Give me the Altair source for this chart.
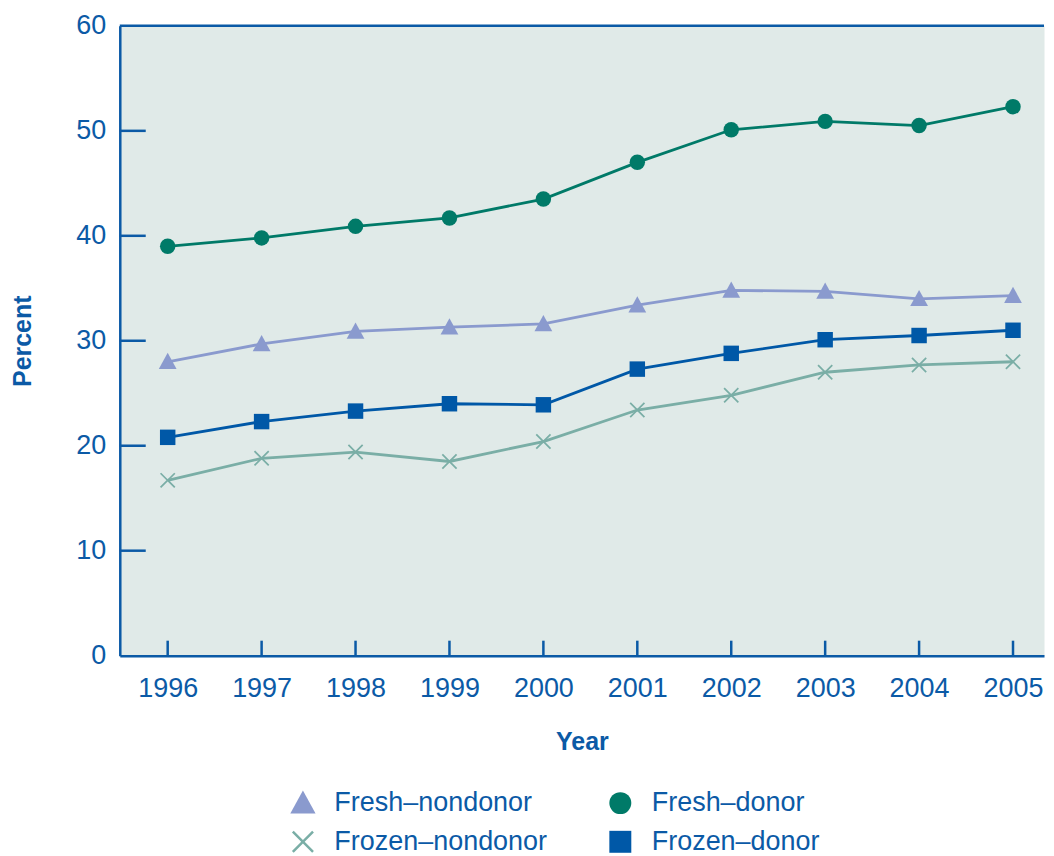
import altair as alt
import pandas as pd

years = [1996, 1997, 1998, 1999, 2000, 2001, 2002, 2003, 2004, 2005]
fresh_nondonor = [28.0, 29.7, 30.9, 31.3, 31.6, 33.4, 34.8, 34.7, 34.0, 34.3]
fresh_donor = [39.0, 39.8, 40.9, 41.7, 43.5, 47.0, 50.1, 50.9, 50.5, 52.3]
frozen_nondonor = [16.7, 18.8, 19.4, 18.5, 20.4, 23.4, 24.8, 27.0, 27.7, 28.0]
frozen_donor = [20.8, 22.3, 23.3, 24.0, 23.9, 27.3, 28.8, 30.1, 30.5, 31.0]

# legend is filled column by column: column 1 = nondonor, column 2 = donor
series_names = ["Fresh\u2013nondonor", "Frozen\u2013nondonor", "Fresh\u2013donor", "Frozen\u2013donor"]
series_values = [fresh_nondonor, frozen_nondonor, fresh_donor, frozen_donor]
series_colors = ["#8A9ACE", "#7AAEA6", "#007A68", "#0058A7"]
tri = "M0,-1.15L1.15,0.95L-1.15,0.95Z"
xshape = ("M0,-0.16L0.84,-1L1,-0.84L0.16,0L1,0.84L0.84,1L0,0.16"
          "L-0.84,1L-1,0.84L-0.16,0L-1,-0.84L-0.84,-1Z")
series_shapes = [tri, xshape, "circle", "square"]

y_tick_values = [0, 10, 20, 30, 40, 50, 60]
inner_y_ticks = [10, 20, 30, 40, 50]

rows = []
for name, vals in zip(series_names, series_values):
    for yr, v in zip(years, vals):
        rows.append({"year": yr, "value": v, "series": name})
df = pd.DataFrame(rows)

AX = "#0B5AA6"
FONT = "Liberation Sans"
W, H = 926, 631

xscale = alt.Scale(domain=[1995.49, 2005.33], nice=False, zero=False)
yscale = alt.Scale(domain=[0, 60], nice=False)

xaxis = alt.Axis(values=years, format="d", tickSize=0, labelPadding=20,
                 domainColor=AX, domainWidth=2.5, labelColor=AX, labelFontSize=27,
                 labelFont=FONT, title="Year", titleFontSize=25, titleFont=FONT,
                 titleFontWeight="bold", titleColor=AX, titlePadding=28, grid=False,
                 labelFlush=False)
yaxis = alt.Axis(values=y_tick_values, tickSize=0, labelPadding=14,
                 domainColor=AX, domainWidth=2.5, labelColor=AX, labelFontSize=27,
                 labelFont=FONT, title="Percent", titleFontSize=25, titleFont=FONT,
                 titleFontWeight="bold", titleColor=AX, titlePadding=40, grid=False,
                 labelFlush=False)

X = alt.X("year:Q", scale=xscale, axis=xaxis)
Y = alt.Y("value:Q", scale=yscale, axis=yaxis)

color_scale = alt.Scale(domain=series_names, range=series_colors)
shape_scale = alt.Scale(domain=series_names, range=series_shapes)

line_layers = [
    alt.Chart(df[df["series"] == name]).mark_line(strokeWidth=2.8, color=col).encode(x=X, y=Y)
    for name, col in zip(series_names, series_colors)
]

legend = alt.Legend(title=None, orient="none", legendX=170, legendY=765, columns=2,
                    columnPadding=59, rowPadding=11, labelFontSize=27, labelFont=FONT,
                    labelColor=AX, symbolSize=484, symbolStrokeWidth=0, labelOffset=18,
                    labelLimit=400, padding=0, symbolOpacity=1)

points = alt.Chart(df).mark_point(filled=True, size=240, opacity=1, strokeWidth=0).encode(
    x=X, y=Y,
    color=alt.Color("series:N", scale=color_scale, legend=legend),
    shape=alt.Shape("series:N", scale=shape_scale, legend=legend),
)

ytick_df = pd.DataFrame({"value": inner_y_ticks})
yticks = alt.Chart(ytick_df).mark_rule(color=AX, strokeWidth=2.5).encode(
    y=Y, x=alt.value(0), x2=alt.value(26)
)

xtick_df = pd.DataFrame({"year": years})
xticks = alt.Chart(xtick_df).mark_rule(color=AX, strokeWidth=2.5).encode(
    x=X, y=alt.value(H), y2=alt.value(H - 15)
)

top_border = alt.Chart(pd.DataFrame({"value": [60]})).mark_rule(color=AX, strokeWidth=2.5).encode(
    y=Y
)

chart = alt.layer(top_border, yticks, xticks, *line_layers, points).properties(
    width=W, height=H,
    padding={"left": 2, "top": 3, "right": 0, "bottom": 92},
).configure(font=FONT).configure_view(fill="#E0EAE8", stroke="transparent")

chart.save("out.html", embed_options={"renderer": "svg", "actions": False})
